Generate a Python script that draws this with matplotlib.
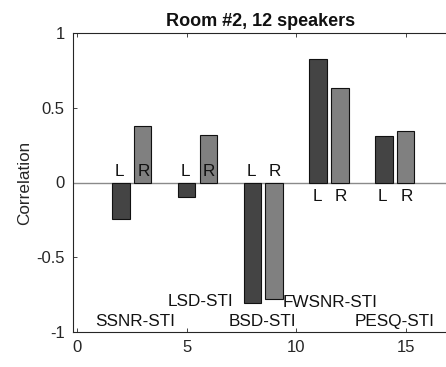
import matplotlib
matplotlib.use("Agg")
import matplotlib.pyplot as plt

plt.rcParams['font.family'] = ['Liberation Sans', 'DejaVu Sans']

# Data
left_pos = [2, 5, 8, 11, 14]
right_pos = [3, 6, 9, 12, 15]
left_vals = [-0.243, -0.096, -0.805, 0.825, 0.314]
right_vals = [0.381, 0.321, -0.776, 0.633, 0.345]
methods = ["SSNR-STI", "LSD-STI", "BSD-STI", "FWSNR-STI", "PESQ-STI"]
method_x = [2.65, 5.64, 8.45, 11.53, 14.47]
method_y = [-0.93, -0.795, -0.93, -0.80, -0.93]
xticks = [0, 5, 10, 15]
yticks = [-1, -0.5, 0, 0.5, 1]
yticklabels = ["-1", "-0.5", "0", "0.5", "1"]

fig = plt.figure(figsize=(4.46, 3.67), dpi=100)
ax = fig.add_axes([73/446, 35/367, 1.0 - 73/446 + 0.003, 299/367])

ax.bar(left_pos, left_vals, width=0.8, color='#444444', edgecolor='#111111', linewidth=0.8, zorder=3)
ax.bar(right_pos, right_vals, width=0.8, color='#808080', edgecolor='#111111', linewidth=0.8, zorder=3)
ax.axhline(0, color='#8a8a8a', linewidth=1.0, zorder=2)

for lx, lv, rx, rv in zip(left_pos, left_vals, right_pos, right_vals):
    if lv < 0:
        ly = 0.075
    else:
        ly = -0.095
    ax.text(lx - 0.05, ly, "L", ha='center', va='center', fontsize=12.3, color='#111111', zorder=4)
    ax.text(rx + 0.03, ly, "R", ha='center', va='center', fontsize=12.3, color='#111111', zorder=4)

for name, mx, my in zip(methods, method_x, method_y):
    ax.text(mx, my, name, ha='center', va='center', fontsize=12.3, color='#111111', zorder=4)

ax.set_xlim(-0.18, 16.9)
ax.set_ylim(-1, 1)
ax.set_xticks(xticks)
ax.set_yticks(yticks)
ax.set_yticklabels(yticklabels)
ax.tick_params(direction='in', length=3, width=0.6, colors='#262626', labelsize=12,
               top=True, bottom=True, left=True, right=False, pad=6)
for s in ['top', 'left', 'bottom']:
    ax.spines[s].set_color('#262626')
    ax.spines[s].set_linewidth(0.8)
ax.spines['right'].set_visible(False)

ax.set_ylabel("Correlation", fontsize=12.3, color='#262626', labelpad=3)
ax.set_title("Room #2, 12 speakers", fontsize=13, fontweight='bold', color='#111111', pad=5)

fig.savefig("out.png", dpi=100)
